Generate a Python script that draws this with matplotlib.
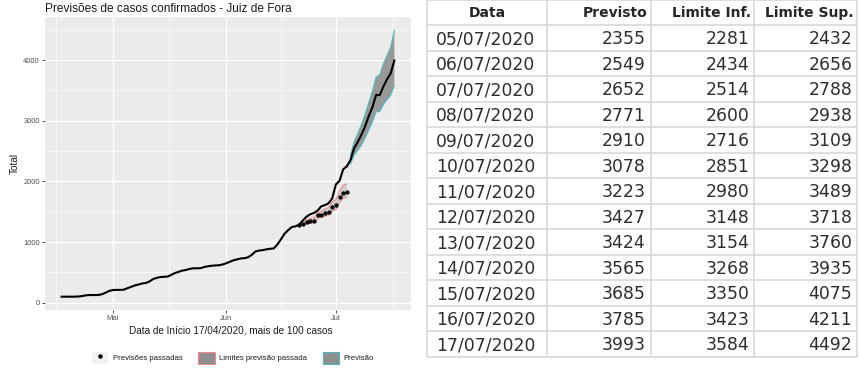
""" Previsoes de casos confirmados - Juiz de Fora """
import numpy as np
import matplotlib.pyplot as plt
import matplotlib.dates as mdates
from matplotlib.patches import Patch
from matplotlib.lines import Line2D
from matplotlib.legend_handler import HandlerTuple

# casos confirmados (diarios, a partir de 17/04/2020)
inicio_casos = '2020-04-17'
casos = [100, 100, 100, 100, 101,
         105, 115, 125, 127, 127,
         128, 140, 165, 195, 210,
         212, 212, 215, 240, 262,
         285, 300, 318, 325, 350,
         390, 410, 424, 428, 432,
         460, 490, 510, 530, 540,
         558, 568, 568, 570, 590,
         601, 610, 615, 618, 630,
         651, 675, 700, 715, 730,
         735, 750, 790, 845, 860,
         868, 880, 890, 895, 960,
         1048, 1140, 1200, 1250, 1260,
         1290, 1360, 1420, 1460, 1480,
         1520, 1590, 1610, 1640, 1720,
         1950, 2010, 2200, 2250]

# previsoes passadas (a partir de 21/06/2020)
inicio_passadas = '2020-06-21'
prev_passadas = [1280, 1300, 1330, 1350, 1355, 1440, 1455,
                 1480, 1500, 1580, 1610, 1740, 1815, 1820]
inf_passadas = [1265, 1280, 1300, 1315, 1320, 1395, 1405,
                1425, 1440, 1510, 1535, 1650, 1725, 1735]
sup_passadas = [1300, 1325, 1365, 1395, 1400, 1490, 1510,
                1545, 1570, 1660, 1700, 1840, 1945, 1960]

# tabela de previsao
datas_tab = ['05/07/2020', '06/07/2020', '07/07/2020', '08/07/2020',
             '09/07/2020', '10/07/2020', '11/07/2020', '12/07/2020',
             '13/07/2020', '14/07/2020', '15/07/2020', '16/07/2020',
             '17/07/2020']
previsto = [2355, 2549, 2652, 2771, 2910, 3078, 3223, 3427, 3424, 3565,
            3685, 3785, 3993]
limite_inf = [2281, 2434, 2514, 2600, 2716, 2851, 2980, 3148, 3154, 3268,
              3350, 3423, 3584]
limite_sup = [2432, 2656, 2788, 2938, 3109, 3298, 3489, 3718, 3760, 3935,
              4075, 4211, 4492]
cabecalho = ['Data', 'Previsto', 'Limite Inf.', 'Limite Sup.']

meses_datas = ['2020-05-01', '2020-06-01', '2020-07-01']
meses = ['Mai', 'Jun', 'Jul']

FONT = ['Liberation Sans', 'DejaVu Sans']
TXT = '#4D4D4D'


def main():
    """ main function """
    fig = plt.figure(figsize=(8.6, 3.74), dpi=100)
    fig.patch.set_facecolor('white')
    draw_chart(fig)
    draw_table(fig)
    fig.savefig('out.png', dpi=100)


def draw_chart(fig):
    """ ggplot-like chart """
    ax = fig.add_axes([45 / 860, 1 - 310 / 374, 366 / 860, 293 / 374])
    ax.set_facecolor('#EBEBEB')
    for s in ax.spines.values():
        s.set_visible(False)

    d_casos = np.datetime64(inicio_casos) + np.arange(len(casos))
    d_pass = np.datetime64(inicio_passadas) + np.arange(len(prev_passadas))
    d_prev = np.array([f'{d[6:]}-{d[3:5]}-{d[:2]}' for d in datas_tab],
                      dtype='datetime64[D]')

    # previsao passada
    ax.fill_between(d_pass, inf_passadas, sup_passadas, facecolor='#CDC6C6',
                    alpha=0.85, lw=0, zorder=2)
    ax.plot(d_pass, inf_passadas, color='#EE8A85', lw=0.7, zorder=2.1)
    ax.plot(d_pass, sup_passadas, color='#EE8A85', lw=0.7, zorder=2.1)

    # previsao
    ax.fill_between(d_prev, limite_inf, limite_sup, facecolor='#989898',
                    lw=0, zorder=2)
    ax.plot(d_prev, limite_inf, color='#4FB8C0', lw=0.8, zorder=2.1)
    ax.plot(d_prev, limite_sup, color='#4FB8C0', lw=0.8, zorder=2.1)

    ax.plot(d_casos, casos, color='black', lw=1.5, zorder=3,
            solid_joinstyle='round')
    ax.plot(np.concatenate([d_casos[-1:], d_prev]), [casos[-1]] + previsto,
            color='black', lw=1.5, zorder=3, solid_joinstyle='round')
    ax.plot(d_pass, prev_passadas, 'o', color='black', ms=2.1, zorder=4)

    # limits as ggplot (5% expansion)
    x0 = mdates.date2num(d_casos[0])
    x1 = mdates.date2num(d_prev[-1])
    ax.set_xlim(x0 - 0.05 * (x1 - x0), x1 + 0.05 * (x1 - x0))
    y0, y1 = min(casos), max(limite_sup)
    ax.set_ylim(y0 - 0.05 * (y1 - y0), y1 + 0.05 * (y1 - y0))

    maj = [mdates.date2num(np.datetime64(m)) for m in meses_datas]
    step = maj[1] - maj[0]
    mino = [maj[0] - step / 2] + [(a + b) / 2 for a, b in zip(maj, maj[1:])] \
        + [maj[-1] + 15.5]
    ax.set_xticks(maj)
    ax.set_xticklabels(meses)
    ax.set_xticks(mino, minor=True)
    ax.set_yticks([0, 1000, 2000, 3000, 4000])
    ax.set_yticks([500, 1500, 2500, 3500, 4500], minor=True)

    ax.grid(which='major', color='white', lw=0.9)
    ax.grid(which='minor', color='white', lw=0.45)
    ax.set_axisbelow(True)
    ax.tick_params(which='major', length=2.2, width=0.6, color='#333333',
                   labelsize=5.4, labelcolor=TXT, pad=1.5)
    ax.tick_params(which='minor', length=0)
    for lab in ax.get_xticklabels() + ax.get_yticklabels():
        lab.set_family(FONT)

    ax.set_title('Previsões de casos confirmados - Juiz de Fora', loc='left',
                 fontsize=8.6, family=FONT, pad=3.5, color='#1a1a1a')
    ax.set_xlabel('Data de Início 17/04/2020, mais de 100 casos', fontsize=7.2,
                  family=FONT, color='#1a1a1a')
    ax.xaxis.set_label_coords(0.508, -0.052)
    ax.set_ylabel('Total', fontsize=7.2, family=FONT, color='#1a1a1a')
    ax.yaxis.set_label_coords(-0.068, 0.5)

    h_pts = (Patch(facecolor='#F2F2F2', edgecolor='none'),
             Line2D([], [], ls='none', marker='o', color='black', ms=2.2))
    h_pass = Patch(facecolor='#8F8F8F', edgecolor='#EE8A85', lw=0.8)
    h_prev = Patch(facecolor='#8F8F8F', edgecolor='#4FB8C0', lw=0.8)
    fig.legend([h_pts, h_pass, h_prev],
               ['Previsões passadas', 'Limites previsão passada', 'Previsão'],
               handler_map={tuple: HandlerTuple(ndivide=1, pad=0)},
               loc='center', bbox_to_anchor=(233 / 860, 16 / 374), ncol=3,
               frameon=False, prop={'family': FONT, 'size': 5.6},
               handlelength=2.1, handleheight=2.1, handletextpad=0.6,
               columnspacing=2.0, labelcolor='#1a1a1a')


def draw_table(fig):
    """ table on the right """
    tab = fig.add_axes([427.3 / 860, 1 - 356.7 / 374, 430 / 860, 356.7 / 374])
    tab.set_xlim(0, 430)
    nrows = len(datas_tab) + 1
    tab.set_ylim(nrows, 0)
    tab.axis('off')
    edges = [0, 120, 223.4, 327, 430]
    tab.hlines(np.arange(nrows + 1), 0, 430, color='#D8D8D8', lw=1.2,
               clip_on=False)
    tab.vlines(edges, 0, nrows, color='#D8D8D8', lw=1.2, clip_on=False)

    hdr = dict(fontsize=10, fontweight='bold', va='center', color='#262626',
               family='DejaVu Sans')
    tab.text((edges[0] + edges[1]) / 2, 0.5, cabecalho[0], ha='center', **hdr)
    for i in range(1, 4):
        tab.text(edges[i + 1] - 3.5, 0.5, cabecalho[i], ha='right', **hdr)

    cel = dict(fontsize=12.4, va='center', color='#2e2e2e',
               family='DejaVu Sans')
    for r, d in enumerate(datas_tab):
        y = r + 1.55
        tab.text(8.7, y, d, ha='left', **cel)
        for i, col in enumerate([previsto, limite_inf, limite_sup]):
            tab.text(edges[i + 2] - 5, y, str(col[r]), ha='right', **cel)


main()
